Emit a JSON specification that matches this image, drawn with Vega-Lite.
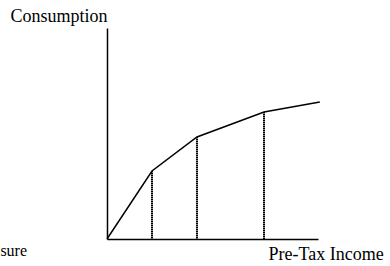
{
  "$schema": "https://vega.github.io/schema/vega-lite/v6.json",
  "width": 211,
  "height": 211,
  "autosize": "none",
  "padding": {"left": 107, "top": 28, "right": 72, "bottom": 27},
  "background": "white",
  "config": {
    "view": {"stroke": null},
    "font": "Liberation Serif"
  },
  "datasets": {
    "curve": [
      {"income": 0, "consumption": 0},
      {"income": 10, "consumption": 68},
      {"income": 20, "consumption": 102},
      {"income": 34.9, "consumption": 127},
      {"income": 47.3, "consumption": 137}
    ],
    "drops": [
      {"income": 10, "consumption": 68},
      {"income": 20, "consumption": 102},
      {"income": 34.9, "consumption": 127}
    ],
    "notes": [
      {"income": -23.7, "consumption": -17, "label": "sure"}
    ]
  },
  "layer": [
    {
      "data": {"name": "curve"},
      "mark": {"type": "line", "color": "black", "strokeWidth": 1.5},
      "encoding": {
        "x": {
          "field": "income", "type": "quantitative",
          "scale": {"domain": [0, 46.9], "nice": false, "zero": false},
          "axis": {
            "domain": true, "domainColor": "black", "domainWidth": 1.5,
            "ticks": false, "labels": false, "grid": false,
            "title": "Pre-Tax Income", "titleFont": "Liberation Serif",
            "titleFontSize": 18, "titleFontWeight": "normal", "titleColor": "black",
            "titleAlign": "left", "titleBaseline": "alphabetic",
            "titleX": 161, "titleY": 20
          }
        },
        "y": {
          "field": "consumption", "type": "quantitative",
          "scale": {"domain": [0, 211], "nice": false, "zero": false},
          "axis": {
            "domain": true, "domainColor": "black", "domainWidth": 1.5,
            "ticks": false, "labels": false, "grid": false,
            "title": "Consumption", "titleFont": "Liberation Serif",
            "titleFontSize": 18, "titleFontWeight": "normal", "titleColor": "black",
            "titleAngle": 0, "titleAlign": "left", "titleBaseline": "alphabetic",
            "titleX": -97, "titleY": -7
          }
        }
      }
    },
    {
      "data": {"name": "drops"},
      "mark": {"type": "rule", "color": "black", "strokeWidth": 2, "strokeDash": [1.4, 0.6]},
      "encoding": {
        "x": {"field": "income", "type": "quantitative"},
        "y": {"field": "consumption", "type": "quantitative"},
        "y2": {"datum": 0}
      }
    },
    {
      "data": {"name": "notes"},
      "mark": {"type": "text", "align": "left", "baseline": "alphabetic", "fontSize": 16, "font": "Liberation Serif", "color": "black"},
      "encoding": {
        "x": {"field": "income", "type": "quantitative"},
        "y": {"field": "consumption", "type": "quantitative"},
        "text": {"field": "label"}
      }
    }
  ]
}
